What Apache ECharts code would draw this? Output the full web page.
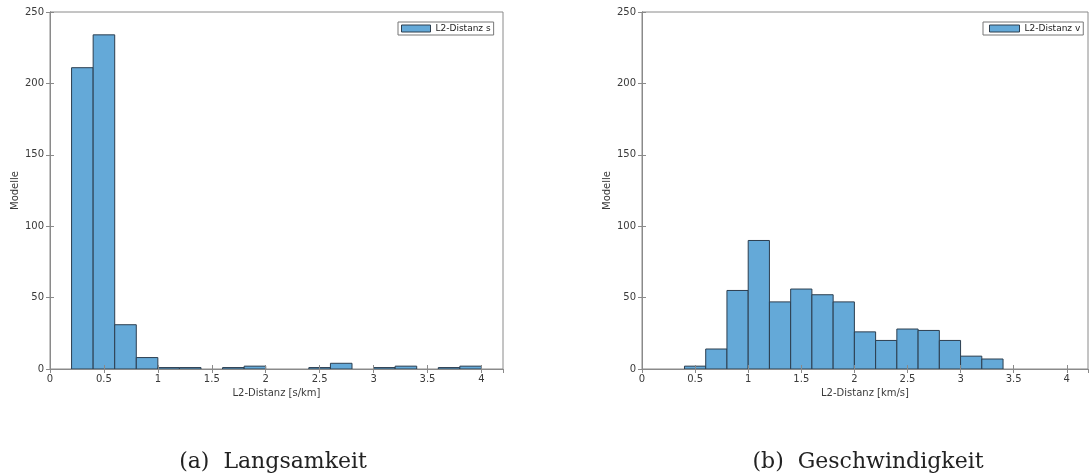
<!DOCTYPE html>
<html>
<head>
<meta charset="utf-8">
<script src="https://cdn.jsdelivr.net/npm/echarts@6/dist/echarts.min.js"></script>
<style>html,body{margin:0;padding:0;background:#fff}#c{width:1090px;height:475px}</style>
</head>
<body>
<div id="c"></div>
<script>
// ---- data ----
const binWidth = 0.2;
const binStartS = [0.2,0.4,0.6,0.8,1.0,1.2,1.4,1.6,1.8,2.0,2.2,2.4,2.6,2.8,3.0,3.2,3.4,3.6,3.8];
const countsS   = [211,234,31,8,1,1,0,1,2,0,0,1,4,0,1,2,0,1,2];
const binStartV = [0.4,0.6,0.8,1.0,1.2,1.4,1.6,1.8,2.0,2.2,2.4,2.6,2.8,3.0,3.2];
const countsV   = [2,14,55,90,47,56,52,47,26,20,28,27,20,9,7];
const xTicks = [0,0.5,1,1.5,2,2.5,3,3.5,4];
const yTicks = [0,50,100,150,200,250];
const seriesNames = ['L2-Distanz s','L2-Distanz v'];
const xNames = ['L2-Distanz [s/km]','L2-Distanz [km/s]'];
const yName = 'Modelle';
const captions = ['(a)  Langsamkeit','(b)  Geschwindigkeit'];

const fill = '#64a9d8', edge = '#2c3e4f', frame = '#8a8a8a', txt = '#3a3a3a';
const chart = echarts.init(document.getElementById('c'));

function toData(starts, counts){ return starts.map((s,i)=>[s, s+binWidth, counts[i]]); }
function renderItem(params, api){
  const x0 = api.value(0), x1 = api.value(1), y = api.value(2);
  if (!y) return null;
  const p0 = api.coord([x0, y]), p1 = api.coord([x1, 0]);
  return {type:'rect', shape:{x:p0[0], y:p0[1], width:p1[0]-p0[0], height:p1[1]-p0[1]},
          style:{fill:fill, stroke:edge, lineWidth:1}};
}
const grids = [
  {left:50, top:12, width:453, height:357, show:true, borderColor:frame, borderWidth:1},
  {left:642, top:12, width:446, height:357, show:true, borderColor:frame, borderWidth:1}
];
const xAxis = [], yAxis = [];
for (let g=0; g<2; g++){
  const common = {type:'value', gridIndex:g, min:0, max:4.2, interval:0.5, z:5,
    splitLine:{show:false}, axisLine:{show:true, lineStyle:{color:frame}},
    axisTick:{show:true, inside:true, length:4, lineStyle:{color:frame}}};
  xAxis.push(Object.assign({}, common, {position:'bottom', name:xNames[g], nameLocation:'middle', nameGap:19,
    nameTextStyle:{fontFamily:'DejaVu Sans', fontSize:10, color:txt},
    axisLabel:{showMaxLabel:false, fontFamily:'DejaVu Sans', fontSize:10, color:txt, margin:5,
      formatter:v=> xTicks.indexOf(v)>=0 ? String(v) : ''}}));
  xAxis.push(Object.assign({}, common, {position:'top', axisLabel:{show:false}}));
  const ycommon = {type:'value', gridIndex:g, min:0, max:250, interval:50, z:5,
    splitLine:{show:false}, axisLine:{show:true, lineStyle:{color:frame}},
    axisTick:{show:true, inside:true, length:4, lineStyle:{color:frame}}};
  yAxis.push(Object.assign({}, ycommon, {position:'left', name:yName, nameLocation:'middle', nameGap:30,
    nameTextStyle:{fontFamily:'DejaVu Sans', fontSize:10, color:txt},
    axisLabel:{fontFamily:'DejaVu Sans', fontSize:10, color:txt, margin:6,
      formatter:v=> yTicks.indexOf(v)>=0 ? String(v) : ''}}));
  yAxis.push(Object.assign({}, ycommon, {position:'right', axisLabel:{show:false}}));
}
const legendCommon = {orient:'vertical', itemHeight:7, itemGap:0,
  borderColor:'#777', borderWidth:1, backgroundColor:'#fff',
  textStyle:{fontFamily:'DejaVu Sans', fontSize:9, color:'#222'}};
chart.setOption({
  animation:false,
  grid:grids, xAxis:xAxis, yAxis:yAxis,
  legend:[
    Object.assign({}, legendCommon, {left:398, top:22, itemWidth:29, padding:[2,3,2,3],
      data:[{name:seriesNames[0], icon:'rect', itemStyle:{color:fill, borderColor:edge, borderWidth:1}}]}),
    Object.assign({}, legendCommon, {left:983, top:22, itemWidth:30, padding:[2,3,2,6],
      data:[{name:seriesNames[1], icon:'rect', itemStyle:{color:fill, borderColor:edge, borderWidth:1}}]})
  ],
  title:[
    {text:captions[0], left:268, top:446, textAlign:'center',
     textStyle:{fontFamily:'DejaVu Serif', fontSize:22, fontWeight:'normal', color:'#222'}},
    {text:captions[1], left:863, top:446, textAlign:'center',
     textStyle:{fontFamily:'DejaVu Serif', fontSize:22, fontWeight:'normal', color:'#222'}}
  ],
  series:[
    {type:'custom', name:seriesNames[0], xAxisIndex:0, yAxisIndex:0, renderItem:renderItem, z:2,
     itemStyle:{color:fill}, encode:{x:[0,1], y:2}, data:toData(binStartS, countsS), clip:true},
    {type:'custom', name:seriesNames[1], xAxisIndex:2, yAxisIndex:2, renderItem:renderItem, z:2,
     itemStyle:{color:fill}, encode:{x:[0,1], y:2}, data:toData(binStartV, countsV), clip:true}
  ]
});
</script>
</body>
</html>
